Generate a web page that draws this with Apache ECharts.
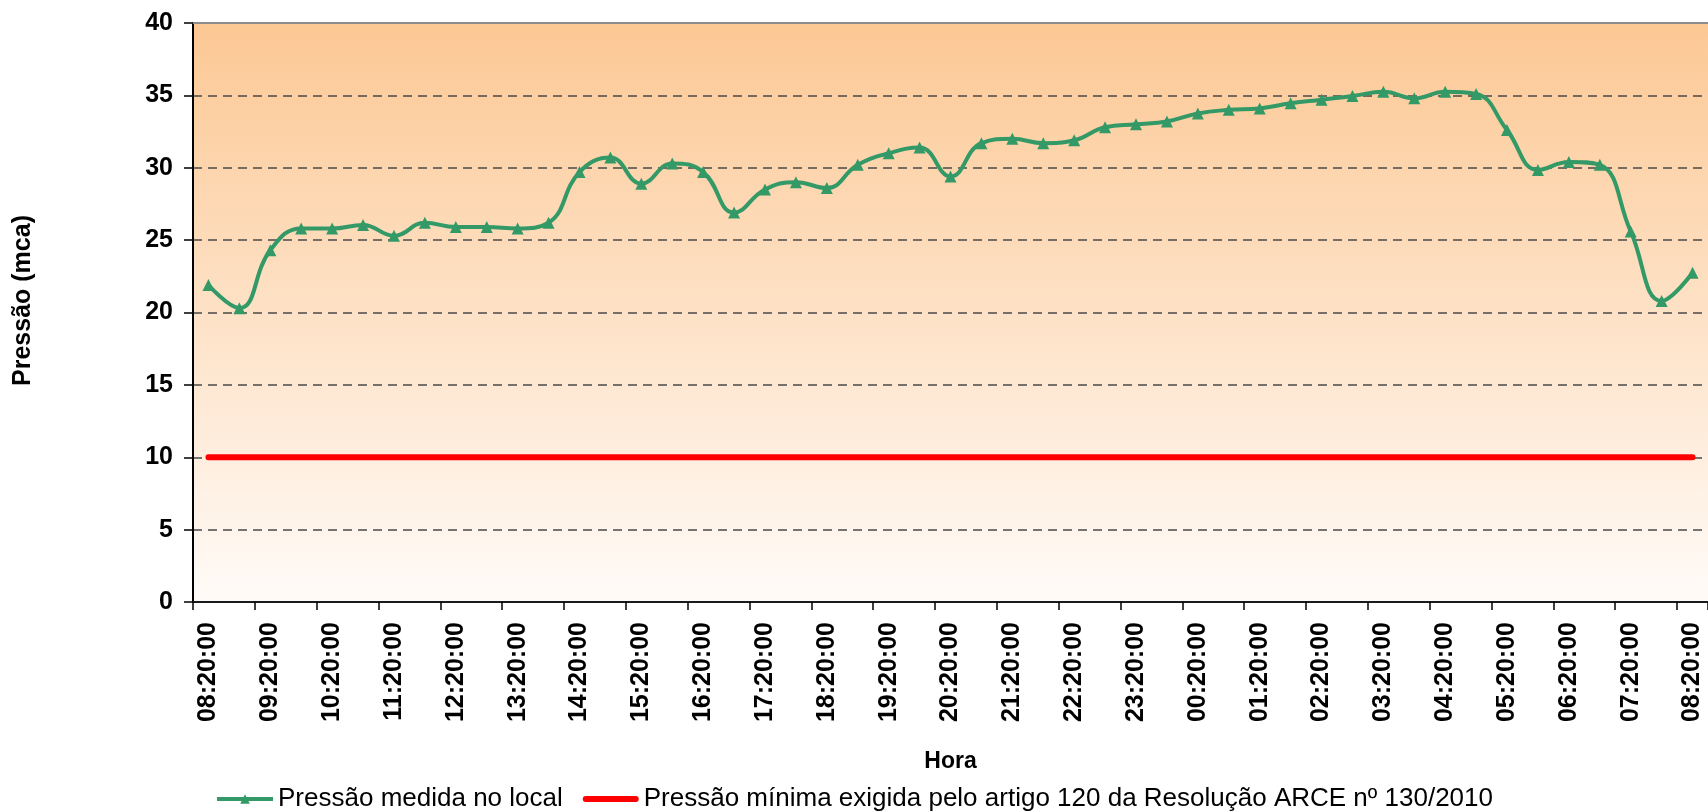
<!DOCTYPE html>
<html>
<head>
<meta charset="utf-8">
<script src="https://cdn.jsdelivr.net/npm/echarts@6/dist/echarts.min.js"></script>
<style>
html,body{margin:0;padding:0;background:#fff;}
#chart{width:1708px;height:812px;}
</style>
</head>
<body>
<div id="chart"></div>
<script>
var horas = [
  "08:20:00","08:50:00","09:20:00","09:50:00","10:20:00","10:50:00","11:20:00","11:50:00",
  "12:20:00","12:50:00","13:20:00","13:50:00","14:20:00","14:50:00","15:20:00","15:50:00",
  "16:20:00","16:50:00","17:20:00","17:50:00","18:20:00","18:50:00","19:20:00","19:50:00",
  "20:20:00","20:50:00","21:20:00","21:50:00","22:20:00","22:50:00","23:20:00","23:50:00",
  "00:20:00","00:50:00","01:20:00","01:50:00","02:20:00","02:50:00","03:20:00","03:50:00",
  "04:20:00","04:50:00","05:20:00","05:50:00","06:20:00","06:50:00","07:20:00","07:50:00",
  "08:20:00"
];
var pressaoMedida = [
  21.9, 20.3, 24.3, 25.8, 25.8, 26.05, 25.3, 26.2,
  25.9, 25.9, 25.8, 26.2, 29.7, 30.7, 28.9, 30.3,
  29.7, 26.9, 28.5, 29.0, 28.6, 30.2, 31.0, 31.4,
  29.4, 31.7, 32.0, 31.7, 31.9, 32.8, 33.0, 33.2,
  33.75, 34.0, 34.1, 34.45, 34.7, 34.95, 35.25, 34.8,
  35.25, 35.1, 32.6, 29.85, 30.4, 30.2, 25.6, 20.8,
  22.75
];
var pressaoMinima = [
  10,10,10,10,10,10,10,10,10,10,10,10,10,10,10,10,10,10,10,10,10,10,10,10,
  10,10,10,10,10,10,10,10,10,10,10,10,10,10,10,10,10,10,10,10,10,10,10,10,10
];
var nomeSerie1 = "Pressão medida no local";
var nomeSerie2 = "Pressão mínima exigida pelo artigo 120 da Resolução ARCE nº 130/2010";

var FONT = "'Liberation Sans', Arial, sans-serif";
var chart = echarts.init(document.getElementById('chart'), null, {renderer: 'canvas'});
chart.setOption({
  backgroundColor: '#ffffff',
  animation: false,
  textStyle: {fontFamily: FONT},
  grid: {
    left: 193, right: -4, top: 23, bottom: 210,
    show: true,
    borderWidth: 0,
    backgroundColor: new echarts.graphic.LinearGradient(0, 0, 0, 1, [
      {offset: 0, color: '#fcc894'},
      {offset: 1, color: '#fffbf8'}
    ])
  },
  legend: {
    top: 781,
    left: 'center',
    itemWidth: 56,
    itemHeight: 12,
    itemGap: 20,
    textStyle: {fontFamily: FONT, fontSize: 26, color: '#000'},
    data: [
      {name: nomeSerie1, lineStyle: {width: 4, color: '#339966'}, itemStyle: {color: '#339966'}},
      {name: nomeSerie2, icon: 'path://M3,0 L53,0 A3,3 0 0 1 53,6 L3,6 A3,3 0 0 1 3,0 Z', itemStyle: {color: '#ff0000'}}
    ]
  },
  xAxis: [{
    type: 'category',
    data: horas,
    boundaryGap: true,
    name: 'Hora',
    nameLocation: 'middle',
    nameGap: 148,
    nameTextStyle: {fontFamily: FONT, fontSize: 23, fontWeight: 'bold', color: '#000'},
    axisLine: {show: true, lineStyle: {color: '#1a1a1a', width: 2}},
    axisTick: {show: true, interval: 1, length: 8, lineStyle: {color: '#000', width: 1.5}},
    axisLabel: {
      interval: 1, rotate: 90, margin: 20,
      fontFamily: FONT, fontSize: 25, fontWeight: 'bold', color: '#000'
    },
    splitLine: {show: false}
  }, {
    type: 'category',
    position: 'top',
    data: horas,
    axisLine: {show: true, lineStyle: {color: '#8c8c8c', width: 2}},
    axisTick: {show: false},
    axisLabel: {show: false},
    splitLine: {show: false}
  }],
  yAxis: {
    type: 'value',
    min: 0, max: 40, interval: 5,
    name: 'Pressão (mca)',
    nameLocation: 'middle',
    nameGap: 157,
    nameTextStyle: {fontFamily: FONT, fontSize: 25, fontWeight: 'bold', color: '#000', padding: [0, 0, 0, 24]},
    axisLine: {show: true, lineStyle: {color: '#000', width: 2}},
    axisTick: {show: true, length: 9, lineStyle: {color: '#000', width: 1.5}},
    axisLabel: {margin: 20, fontFamily: FONT, fontSize: 25, fontWeight: 'bold', color: '#000'},
    splitLine: {show: true, lineStyle: {color: '#4a4a4a', width: 1.5, type: [9, 6]}}
  },
  series: [
    {
      name: nomeSerie1,
      type: 'line',
      data: pressaoMedida,
      smooth: 0.45,
      symbol: 'triangle',
      symbolSize: 12,
      itemStyle: {color: '#339966'},
      lineStyle: {color: '#339966', width: 4},
      z: 3
    },
    {
      name: nomeSerie2,
      type: 'line',
      data: pressaoMinima,
      symbol: 'none',
      itemStyle: {color: '#ff0000'},
      lineStyle: {color: '#ff0000', width: 6, cap: 'round'},
      z: 2
    }
  ]
});
</script>
</body>
</html>
